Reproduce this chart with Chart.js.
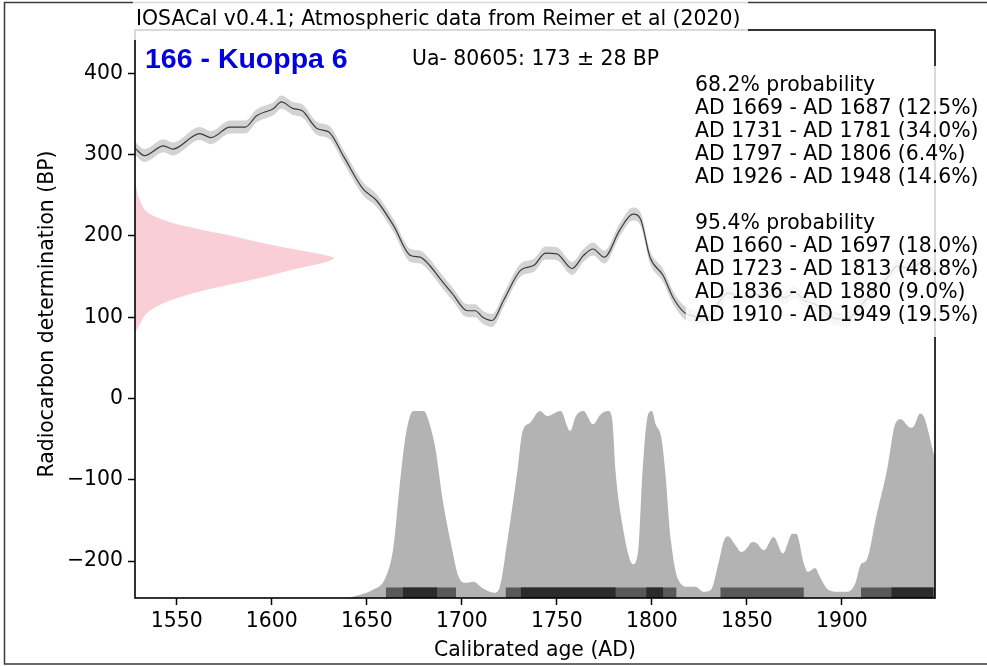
<!DOCTYPE html>
<html>
<head>
<meta charset="utf-8">
<script src="https://cdn.jsdelivr.net/npm/chart.js@4.4.1/dist/chart.umd.min.js"></script>
<style>
  html, body { margin: 0; padding: 0; background: #fff; }
  canvas { display: block; }
</style>
</head>
<body>
<canvas id="c" width="987" height="666"></canvas>
<script>
// ---- measurement ----
const sampleName = '166 - Kuoppa 6';
const labCode = 'Ua- 80605';
const measAge = 173;   // BP
const measErr = 28;    // BP
const headerText = 'IOSACal v0.4.1; Atmospheric data from Reimer et al (2020)';

// ---- axes ----
const xMin = 1528, xMax = 1949;
const yMin = -245.5, yMax = 453.5;
const xTicks = [1550, 1600, 1650, 1700, 1750, 1800, 1850, 1900];
const yTicks = [-200, -100, 0, 100, 200, 300, 400];

// ---- calibration curve (IntCal20 segment), AD vs BP ----
const calYears = [1528, 1533, 1543, 1548, 1562, 1568, 1578, 1586, 1592, 1601,
                  1605, 1611, 1616, 1624, 1630, 1638, 1648, 1655, 1664, 1673,
                  1678, 1683, 1688, 1695, 1703, 1707, 1711, 1716, 1722, 1731,
                  1738, 1744, 1750, 1758, 1764, 1769, 1775, 1783, 1790, 1794,
                  1799, 1806, 1811, 1817, 1821, 1826, 1831, 1835, 1840, 1845,
                  1850, 1855, 1860, 1865, 1870, 1875, 1880, 1886, 1891, 1897,
                  1903, 1908, 1912, 1918, 1924, 1929, 1934, 1938, 1942, 1946, 1950];
const calBP    = [308, 299, 311, 307, 326, 321, 334, 334, 348, 357,
                  365, 357, 354, 332, 328, 297, 258, 244, 213, 176,
                  174, 164, 149, 129, 108, 108, 100, 96, 121, 158,
                  164, 179, 178, 160, 176, 184, 174, 207, 227, 221,
                  174, 151, 125, 106, 102, 99, 101, 117, 130, 126,
                  125, 128, 125, 130, 124, 131, 121, 116, 106, 98,
                  98, 108, 120, 135, 149, 163, 161, 162, 168, 163, 150];
const calErr = 8;

// ---- calibrated probability density (relative to its maximum) ----
const densYears = [1640, 1646, 1653, 1660, 1664, 1667, 1670, 1673, 1675, 1680,
                   1682, 1686, 1690, 1695, 1698, 1702, 1706, 1711, 1717, 1720,
                   1724, 1729, 1732, 1736, 1741, 1745, 1752, 1757, 1760, 1764,
                   1769, 1773, 1777, 1779, 1781, 1785, 1788, 1790, 1793, 1795,
                   1798, 1800, 1802, 1805, 1807, 1810, 1814, 1819, 1823, 1827,
                   1831, 1835, 1838, 1840, 1844, 1847, 1849, 1853, 1855, 1859,
                   1864, 1869, 1874, 1876, 1880, 1882, 1886, 1888, 1893, 1898,
                   1903, 1907, 1910, 1913, 1918, 1924, 1928, 1931, 1936, 1938,
                   1941, 1943, 1949, 1951];
const densRel   = [0, 0.016, 0.043, 0.113, 0.273, 0.574, 0.84, 0.982, 1.0, 1.0,
                   0.964, 0.805, 0.521, 0.255, 0.122, 0.081, 0.087, 0.052, 0.028, 0.06,
                   0.309, 0.663, 0.894, 0.938, 1.0, 0.973, 1.0, 0.894, 0.973, 1.0,
                   0.929, 0.982, 1.0, 0.964, 0.663, 0.362, 0.22, 0.181, 0.273, 0.663,
                   0.982, 1.0, 0.929, 0.858, 0.681, 0.309, 0.096, 0.06, 0.06, 0.034,
                   0.043, 0.185, 0.309, 0.33, 0.282, 0.246, 0.255, 0.299, 0.294, 0.255,
                   0.326, 0.238, 0.344, 0.344, 0.185, 0.14, 0.161, 0.122, 0.043, 0.034,
                   0.034, 0.078, 0.181, 0.202, 0.432, 0.698, 0.929, 0.956, 0.911, 0.92,
                   0.986, 0.973, 0.752, 0.7];

// ---- radiocarbon determination profile (BP vs spread in years from the left edge) ----
const measBP   = [80, 91.9, 108.3, 120.6, 130.8, 140.3, 149.3, 159.6, 167, 173,
                  177, 183, 191, 200.6, 209, 217, 227, 244, 268];
const measSpan = [0, 2.6, 7.9, 18.4, 32.5, 50, 67.5, 85, 99, 104.7,
                  99, 85, 67.5, 50, 32.5, 18.4, 7.9, 2.6, 0];

// ---- highest posterior density ranges: [from AD, to AD, percent] ----
const hpd68 = [[1669, 1687, 12.5], [1731, 1781, 34.0], [1797, 1806, 6.4], [1926, 1948, 14.6]];
const hpd95 = [[1660, 1697, 18.0], [1723, 1813, 48.8], [1836, 1880, 9.0], [1910, 1949, 19.5]];

// ---- build datasets ----
const FONT = '"DejaVu Sans", sans-serif';
const FS = 20.4;
const densHeight = 230;     // axis units taken by the density at its peak
const barTop = -232.5;      // top of the range bars

const pts = (xs, ys) => xs.map((x, i) => ({ x, y: ys[i] }));

function rangeBars(list, color) {
  return list.map(([a, b]) => ({
    data: [{ x: a, y: barTop }, { x: b, y: barTop }],
    fill: 'start',
    backgroundColor: color,
    borderWidth: 0,
    pointRadius: 0
  }));
}

const datasets = [
  ...rangeBars(hpd68, '#2b2b2b'),
  ...rangeBars(hpd95, '#595959'),
  {
    data: densYears.map((x, i) => ({ x, y: yMin + densRel[i] * densHeight })),
    fill: 'start',
    backgroundColor: '#b3b3b3',
    borderWidth: 0,
    pointRadius: 0,
    cubicInterpolationMode: 'monotone'
  },
  {
    data: pts(calYears, calBP),
    fill: false,
    borderColor: '#3c3c3c',
    borderWidth: 1.2,
    pointRadius: 0,
    cubicInterpolationMode: 'monotone'
  },
  {
    data: calYears.map((x, i) => ({ x, y: calBP[i] + calErr })),
    fill: '+1',
    backgroundColor: '#d3d3d3',
    borderWidth: 0,
    pointRadius: 0,
    cubicInterpolationMode: 'monotone'
  },
  {
    data: calYears.map((x, i) => ({ x, y: calBP[i] - calErr })),
    fill: false,
    borderWidth: 0,
    pointRadius: 0,
    cubicInterpolationMode: 'monotone'
  },
  {
    indexAxis: 'y',
    data: measBP.map((bp, i) => ({ x: xMin + measSpan[i], y: bp })),
    fill: { value: xMin },
    backgroundColor: 'rgb(249,206,214)',
    borderWidth: 0,
    pointRadius: 0,
    cubicInterpolationMode: 'monotone'
  }
];

// ---- frame, spines, translucent boxes and texts ----
const decorations = {
  id: 'decorations',
  beforeDraw(chart) {
    const { ctx, width, height } = chart;
    ctx.save();
    ctx.fillStyle = '#fff';
    ctx.fillRect(0, 0, width, height);
    ctx.strokeStyle = '#3a3a3a';
    ctx.lineWidth = 1.5;
    ctx.beginPath();
    ctx.moveTo(width + 2, 2.5);
    ctx.lineTo(4.5, 2.5);
    ctx.lineTo(4.5, height - 2);
    ctx.lineTo(width + 2, height - 2);
    ctx.stroke();
    ctx.restore();
  },
  afterDatasetsDraw(chart) {
    const { ctx, chartArea: a } = chart;
    ctx.save();
    ctx.strokeStyle = '#000';
    ctx.lineWidth = 1.6;
    ctx.strokeRect(a.left, a.top, a.right - a.left, a.bottom - a.top);

    ctx.fillStyle = 'rgba(255,255,255,0.82)';
    ctx.fillRect(a.left - 2, 0, 615, a.top + 10);
    ctx.fillRect(a.right - 249, a.top + 36, 260, 271);

    ctx.textBaseline = 'alphabetic';
    ctx.textAlign = 'left';
    ctx.fillStyle = '#000';
    ctx.font = FS + 'px ' + FONT;
    ctx.fillText(headerText, a.left + 1, 25);
    ctx.fillText(labCode + ': ' + measAge + ' \u00b1 ' + measErr + ' BP', 412, 65);

    ctx.fillStyle = '#0000e0';
    ctx.font = 'bold 28.5px "Liberation Sans", Arial, sans-serif';
    ctx.fillText(sampleName, a.left + 10, 68);

    ctx.fillStyle = '#000';
    ctx.font = FS + 'px ' + FONT;
    const fmt = ([f, t, p]) => 'AD ' + f + ' - AD ' + t + ' (' + p.toFixed(1) + '%)';
    const lines = ['68.2% probability', ...hpd68.map(fmt), '',
                   '95.4% probability', ...hpd95.map(fmt)];
    lines.forEach((s, i) => { if (s) ctx.fillText(s, 695, 91 + i * 23); });
    ctx.restore();
  }
};

const tickFont = { family: FONT, size: FS };
const axisGrid = {
  display: true, drawOnChartArea: false, drawTicks: true,
  tickLength: 7, tickWidth: 1.5, tickColor: '#000'
};

new Chart(document.getElementById('c'), {
  type: 'line',
  data: { datasets },
  options: {
    responsive: false,
    animation: false,
    devicePixelRatio: 1,
    layout: { padding: { left: 0, top: 30, right: 52, bottom: 0 } },
    plugins: { legend: { display: false }, tooltip: { enabled: false } },
    elements: { point: { radius: 0 } },
    scales: {
      x: {
        type: 'linear', min: xMin, max: xMax,
        afterBuildTicks: s => { s.ticks = xTicks.map(v => ({ value: v })); },
        afterFit: s => { s.height = 68; },
        grid: axisGrid,
        border: { display: false },
        ticks: { color: '#000', font: tickFont, padding: 4, maxRotation: 0, autoSkip: false,
                 callback: v => String(v) },
        title: { display: true, text: 'Calibrated age (AD)', color: '#000', font: tickFont,
                 padding: { top: 0, bottom: 3 } }
      },
      y: {
        type: 'linear', min: yMin, max: yMax,
        afterBuildTicks: s => { s.ticks = yTicks.map(v => ({ value: v })); },
        afterFit: s => { s.width = 135; },
        grid: axisGrid,
        border: { display: false },
        ticks: { color: '#000', font: tickFont, padding: 5,
                 callback: v => (v < 0 ? '\u2212' + Math.abs(v) : String(v)) },
        title: { display: true, text: 'Radiocarbon determination (BP)', color: '#000', font: tickFont,
                 padding: { top: 35, bottom: 0 } }
      }
    }
  },
  plugins: [decorations]
});
</script>
</body>
</html>
